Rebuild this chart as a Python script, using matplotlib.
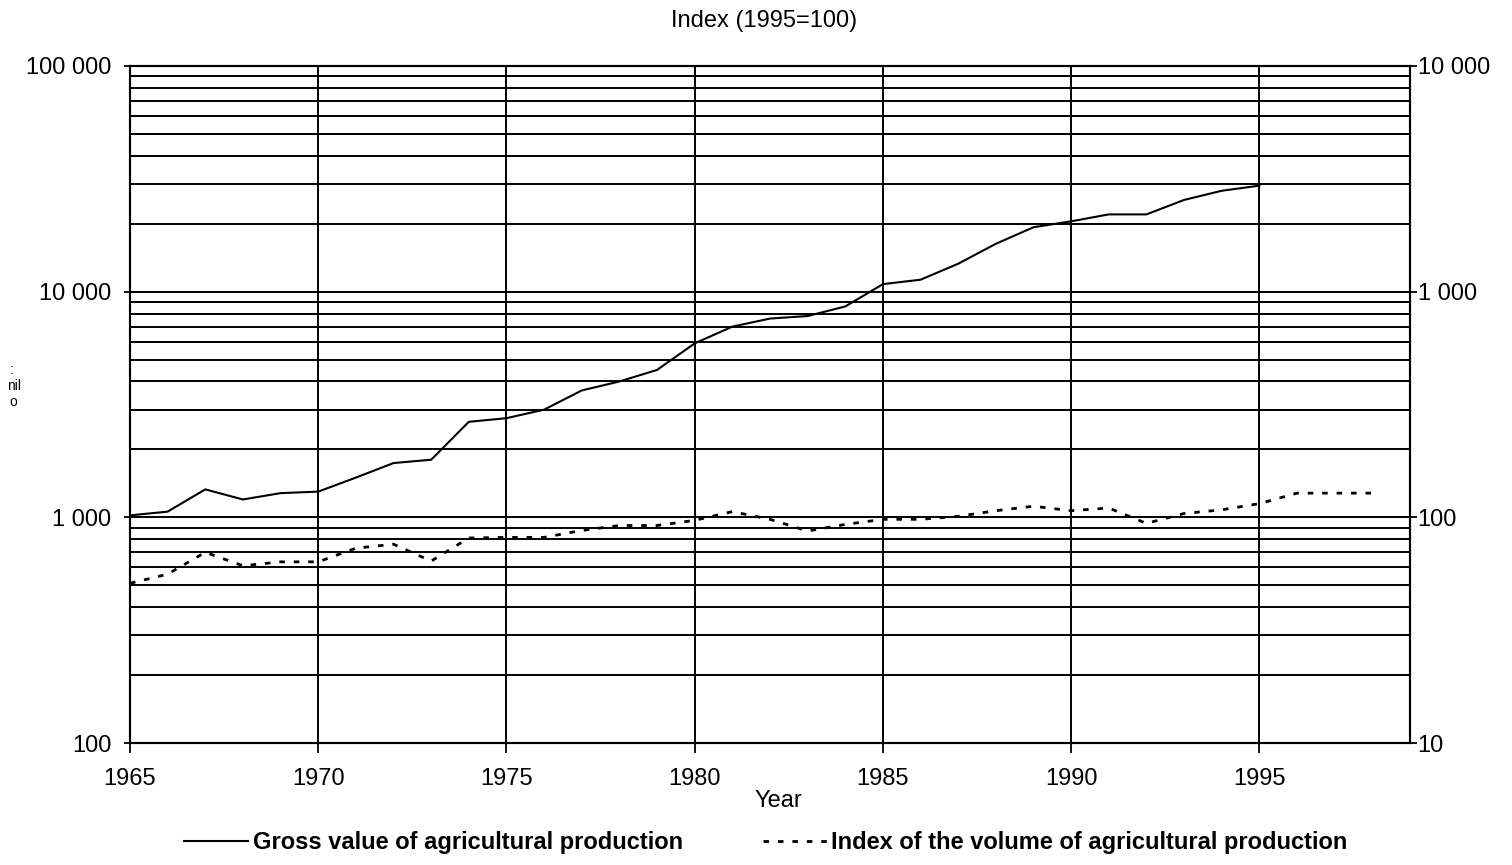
import matplotlib
matplotlib.use("Agg")
import matplotlib.pyplot as plt
from matplotlib.ticker import FixedLocator, FixedFormatter, NullLocator, NullFormatter
from matplotlib.lines import Line2D

plt.rcParams['font.family'] = ['Liberation Sans', 'DejaVu Sans']

years_gross = list(range(1965, 1996))
gross_value = [1020, 1060, 1330, 1200, 1280, 1300, 1500, 1740, 1800, 2650,
               2750, 3000, 3650, 4000, 4500, 5900, 7000, 7600, 7800, 8600,
               10800, 11300, 13300, 16300, 19300, 20500, 22000, 22000, 25500,
               28000, 29500]
years_index = list(range(1965, 1999))
volume_index = [51, 56, 70, 61, 63.5, 63.5, 73, 76, 64, 81, 81.5, 81.5, 87.5,
                92, 92, 97, 106, 98, 87, 93, 98, 98, 101, 107, 112, 107, 110,
                94, 104, 108, 115, 128, 128, 128]

left_ticks = [100, 1000, 10000, 100000]
left_labels = ["100", "1 000", "10 000", "100 000"]
right_ticks = [10, 100, 1000, 10000]
right_labels = ["10", "100", "1 000", "10 000"]
x_ticks = [1965, 1970, 1975, 1980, 1985, 1990, 1995]
x_labels = [str(y) for y in x_ticks]
legend_labels = ["Gross value of agricultural production",
                 "Index of the volume of agricultural production"]

W, H = 1512, 865
fig = plt.figure(figsize=(W / 100, H / 100), dpi=100)
ax = fig.add_axes([130 / W, 1 - 743 / H, (1410 - 130) / W, (743 - 66) / H])

ax.set_yscale('log')
ax.set_ylim(100, 100000)
ax.set_xlim(1965, 1999)

grid_lw = 1.4
grid_vals = [m * 10 ** e for e in range(2, 5) for m in range(1, 10)] + [100000]
for v in grid_vals:
    ax.axhline(v, color='black', lw=grid_lw, zorder=1)
for xv in x_ticks[1:]:
    ax.axvline(xv, color='black', lw=grid_lw, zorder=1)

fs = 17
ax.yaxis.set_major_locator(FixedLocator(left_ticks))
ax.yaxis.set_major_formatter(FixedFormatter(left_labels))
ax.yaxis.set_minor_locator(NullLocator())
ax.yaxis.set_minor_formatter(NullFormatter())
ax.tick_params(axis='y', which='major', direction='out', length=4.5, width=1.3,
               labelsize=fs, pad=9)
ax.xaxis.set_major_locator(FixedLocator(x_ticks))
ax.xaxis.set_major_formatter(FixedFormatter(x_labels))
ax.tick_params(axis='x', which='major', direction='out', length=7, width=1.3,
               labelsize=fs, pad=11)
for s in ax.spines.values():
    s.set_color('black')
    s.set_linewidth(1.5)

ax.plot(years_gross, gross_value, color='black', lw=1.5, zorder=3)

ax2 = ax.twinx()
ax2.set_yscale('log')
ax2.set_ylim(10, 10000)
ax2.yaxis.set_major_locator(FixedLocator(right_ticks))
ax2.yaxis.set_major_formatter(FixedFormatter(right_labels))
ax2.yaxis.set_minor_locator(NullLocator())
ax2.yaxis.set_minor_formatter(NullFormatter())
ax2.tick_params(axis='y', which='major', direction='out', length=5, width=1.3,
                labelsize=fs, pad=0.5)
for s in ax2.spines.values():
    s.set_color('black')
    s.set_linewidth(1.5)
ax2.plot(years_index, volume_index, color='black', lw=2.0,
         linestyle=(0, (2, 3.2)), zorder=3)

fig.text(764 / W, 1 - 21 / H, "Index (1995=100)", ha='center', va='center',
         fontsize=fs)
fig.text(778 / W, 1 - 801 / H, "Year", ha='center', va='center', fontsize=fs)

# clipped left axis title fragments
fig.text(12 / W, 1 - 370 / H, ":", ha='center', va='center', fontsize=10)
fig.text(14 / W, 1 - 386 / H, "nil", ha='center', va='center', fontsize=10)
fig.text(13 / W, 1 - 402 / H, "o", ha='center', va='center', fontsize=10)

h1 = Line2D([], [], color='black', lw=1.5)
h2 = Line2D([], [], color='black', lw=2.0, linestyle=(0, (2, 3.2)))
fig.legend([h1, h2], legend_labels, loc='center', ncol=2,
           bbox_to_anchor=(766 / W, 1 - 843 / H), frameon=False,
           prop={'size': fs, 'weight': 'bold'}, handlelength=2.7,
           handletextpad=0.2, columnspacing=3.4)

fig.savefig("out.png", dpi=100)
